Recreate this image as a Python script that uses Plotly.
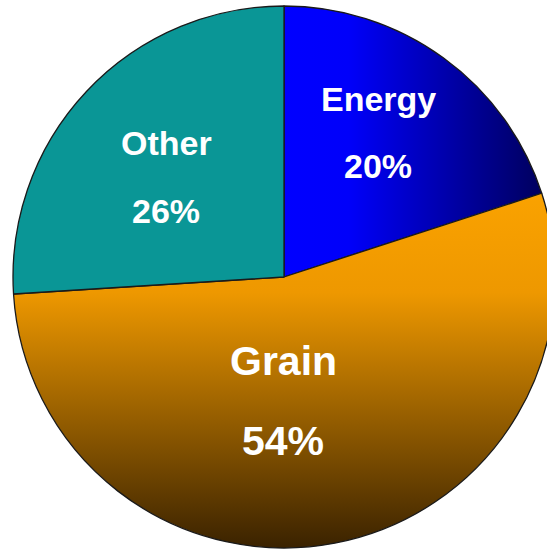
import json
import plotly.graph_objects as go

# --- data -------------------------------------------------------------
labels = ["Energy", "Grain", "Other"]
shares = [20, 54, 26]

# base colours per slice (used as fallback fill)
base_colors = ["#0000FF", "#E08E00", "#0A9696"]

# gradient stops per slice: (offset, colour); direction vector x1,y1,x2,y2
gradients = [
    {"dir": [0, 0, 1, 0], "stops": [(0.0, "#0000FF"), (0.25, "#0000FA"), (1.0, "#00005E")]},
    {"dir": [0, 0, 0, 1], "stops": [(0.0, "#FAA200"), (0.28, "#EE9800"), (1.0, "#3A2200")]},
    {"dir": [0, 0, 0, 1], "stops": [(0.0, "#0A9696"), (1.0, "#0A9696")]},
]

W, H = 556, 550
FONT = "Liberation Sans, Arial, sans-serif"

fig = go.Figure(
    go.Pie(
        labels=labels,
        values=shares,
        sort=False,
        direction="clockwise",
        rotation=0,
        textinfo="none",
        hoverinfo="none",
        marker=dict(colors=base_colors, line=dict(color="#1a1a1a", width=1.3)),
        domain=dict(x=[13 / W, 555 / W], y=[2 / H, 544 / H]),
        showlegend=False,
    )
)

# slice labels: (text, x px, y px, font size)
label_lines = [
    (labels[0], 378, 99, 34),
    (f"{shares[0]}%", 378, 166, 34),
    (labels[2], 166, 143, 34),
    (f"{shares[2]}%", 166, 211, 34),
    (labels[1], 283, 361, 41),
    (f"{shares[1]}%", 283, 441, 41),
]
for text, xp, yp, size in label_lines:
    fig.add_annotation(
        text=text,
        x=xp / W,
        y=1 - yp / H,
        xref="paper",
        yref="paper",
        xanchor="center",
        yanchor="middle",
        showarrow=False,
        font=dict(family=FONT, size=size, color="white", weight="bold"),
    )

fig.update_layout(
    width=W,
    height=H,
    margin=dict(l=0, r=0, t=0, b=0),
    paper_bgcolor="white",
    plot_bgcolor="white",
)

grad_json = json.dumps(gradients)
post = """
document.documentElement.style.overflow = 'hidden';
document.body.style.overflow = 'hidden';
document.body.style.margin = '0';
var gd = document.getElementById('{plot_id}');
var grads = GRADS;
function applyGrad() {
  var svg = gd.querySelector('svg.main-svg');
  if (!svg) return;
  var ns = 'http://www.w3.org/2000/svg';
  var defs = svg.querySelector('defs');
  if (!defs) { defs = document.createElementNS(ns, 'defs'); svg.insertBefore(defs, svg.firstChild); }
  grads.forEach(function (g, i) {
    var id = 'slicegrad' + i;
    if (!defs.querySelector('#' + id)) {
      var lg = document.createElementNS(ns, 'linearGradient');
      lg.setAttribute('id', id);
      lg.setAttribute('x1', g.dir[0]); lg.setAttribute('y1', g.dir[1]);
      lg.setAttribute('x2', g.dir[2]); lg.setAttribute('y2', g.dir[3]);
      g.stops.forEach(function (s) {
        var st = document.createElementNS(ns, 'stop');
        st.setAttribute('offset', s[0]);
        st.setAttribute('stop-color', s[1]);
        lg.appendChild(st);
      });
      defs.appendChild(lg);
    }
  });
  var paths = gd.querySelectorAll('g.slice path.surface');
  paths.forEach(function (p, i) {
    if (i < grads.length) p.style.fill = 'url(#slicegrad' + i + ')';
  });
}
applyGrad();
gd.on('plotly_afterplot', applyGrad);
""".replace("GRADS", grad_json)

fig.write_html("out.html", post_script=post)
